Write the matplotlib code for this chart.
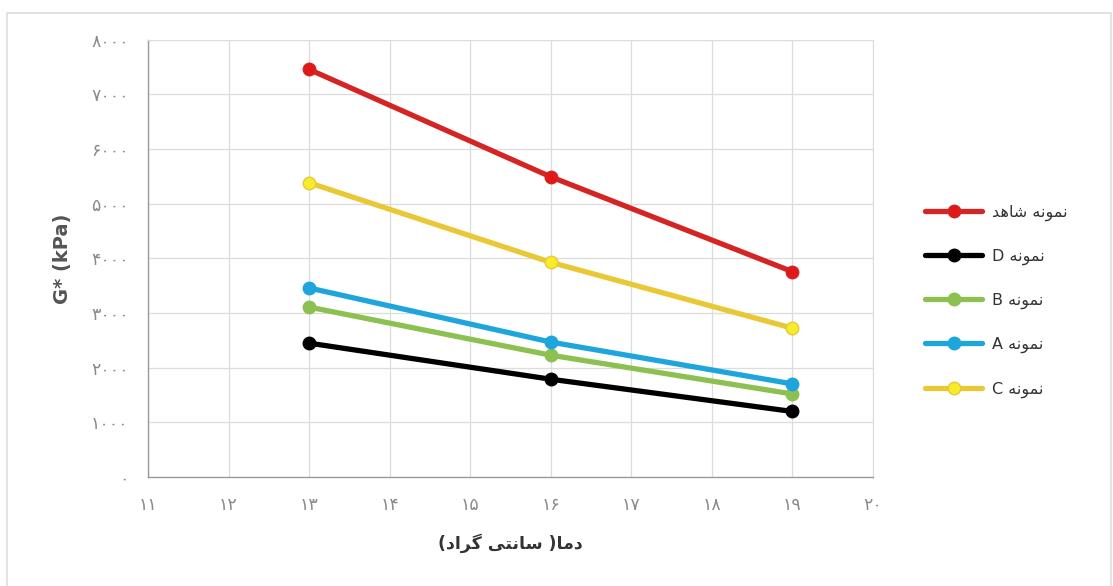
import matplotlib
matplotlib.use("Agg")
import matplotlib.pyplot as plt
from matplotlib.patches import Rectangle

# ---------------------------
# Data
# ---------------------------
temps = [13, 16, 19]
series_names = ["شاهد", "D", "B", "A", "C"]
shahed = [7460, 5495, 3760]
sample_d = [2450, 1790, 1200]
sample_b = [3110, 2230, 1520]
sample_a = [3460, 2470, 1705]
sample_c = [5385, 3930, 2725]
x_ticks = list(range(11, 21))
y_ticks = list(range(0, 9000, 1000))

line_colors = ["#d42424", "#000000", "#8cc152", "#1ea6dc", "#e8c834"]
marker_colors = ["#e01818", "#000000", "#8cc152", "#1ea6dc", "#f7ec2c"]

# ---------------------------
# Tiny Persian shaper (matplotlib has no RTL/joining support)
# ---------------------------
FORMS = {
    "ن": ("\uFEE5", "\uFEE6", "\uFEE7", "\uFEE8"),
    "م": ("\uFEE1", "\uFEE2", "\uFEE3", "\uFEE4"),
    "ه": ("\uFEE9", "\uFEEA", "\uFEEB", "\uFEEC"),
    "ش": ("\uFEB5", "\uFEB6", "\uFEB7", "\uFEB8"),
    "س": ("\uFEB1", "\uFEB2", "\uFEB3", "\uFEB4"),
    "ت": ("\uFE95", "\uFE96", "\uFE97", "\uFE98"),
    "ی": ("\uFBFC", "\uFBFD", "\uFBFE", "\uFBFF"),
    "گ": ("\uFB92", "\uFB93", "\uFB94", "\uFB95"),
    "و": ("\uFEED", "\uFEEE"),
    "ا": ("\uFE8D", "\uFE8E"),
    "د": ("\uFEA9", "\uFEAA"),
    "ر": ("\uFEAD", "\uFEAE"),
}
RIGHT_ONLY = set("ودار")


def fa(word):
    # shape one Persian word and return it in visual (left-to-right) order
    out = []
    for i, ch in enumerate(word):
        if ch not in FORMS:
            out.append(ch)
            continue
        prev = word[i - 1] if i > 0 else ""
        nxt = word[i + 1] if i + 1 < len(word) else ""
        join_prev = prev in FORMS and prev not in RIGHT_ONLY
        join_next = ch not in RIGHT_ONLY and nxt in FORMS
        f = FORMS[ch]
        if join_prev and join_next:
            out.append(f[3])
        elif join_prev:
            out.append(f[1])
        elif join_next:
            out.append(f[2])
        else:
            out.append(f[0])
    return "".join(reversed(out))


PERSIAN_DIGITS = str.maketrans("0123456789", "۰۱۲۳۴۵۶۷۸۹")


def fa_num(n):
    return str(n).translate(PERSIAN_DIGITS)


# ---------------------------
# Plot
# ---------------------------
plt.rcParams["font.family"] = ["DejaVu Sans"]

fig = plt.figure(figsize=(11.13, 5.86), dpi=100)
ax = fig.add_axes([0.133, 0.186, 0.651, 0.746])

all_series = [shahed, sample_d, sample_b, sample_a, sample_c]
labels = []
for name in series_names:
    if name == "شاهد":
        labels.append(fa("شاهد") + " " + fa("نمونه"))
    else:
        labels.append(name + " " + fa("نمونه"))

for vals, lab, lc, mc in zip(all_series, labels, line_colors, marker_colors):
    ax.plot(temps, vals, color=lc, linewidth=3.8, marker="o", markersize=9,
            markerfacecolor=mc, markeredgecolor=lc, markeredgewidth=1.0,
            label=lab, solid_capstyle="round")

ax.set_xlim(11, 20)
ax.set_ylim(0, 8000)
ax.set_xticks(x_ticks)
ax.set_xticklabels([fa_num(t) for t in x_ticks])
ax.set_yticks(y_ticks)
ax.set_yticklabels([fa_num(t) for t in y_ticks])
ax.tick_params(axis="both", length=0, colors="#8a8a8a", labelsize=12.5)
ax.tick_params(axis="x", pad=14)
ax.tick_params(axis="y", pad=14)

ax.grid(True, color="#dcdcdc", linewidth=0.9)
ax.set_axisbelow(True)
for side in ["top", "right"]:
    ax.spines[side].set_color("#dcdcdc")
for side in ["left", "bottom"]:
    ax.spines[side].set_color("#9a9a9a")
    ax.spines[side].set_linewidth(1.0)

ax.set_ylabel("G* (kPa)", fontsize=14, fontweight="bold", color="#555555", labelpad=14)
# visual order of "دما( سانتی گراد)" rendered right-to-left
xlabel = "(" + fa("گراد") + " " + fa("سانتی") + " )" + fa("دما")
ax.set_xlabel(xlabel, fontsize=12.5, fontweight="bold", color="#333333", labelpad=14)

leg = fig.legend(loc="upper left", bbox_to_anchor=(0.818, 0.676), frameon=False,
                 handlelength=3.6, labelspacing=1.75, fontsize=11.5, handletextpad=0.6)
for txt in leg.get_texts():
    txt.set_color("#333333")

# faint chart-area border
fig.patches.append(Rectangle((0.0065, -0.01), 0.992, 0.988, transform=fig.transFigure,
                             fill=False, edgecolor="#dddddd", linewidth=1.2))

plt.savefig("out.png", dpi=100)
